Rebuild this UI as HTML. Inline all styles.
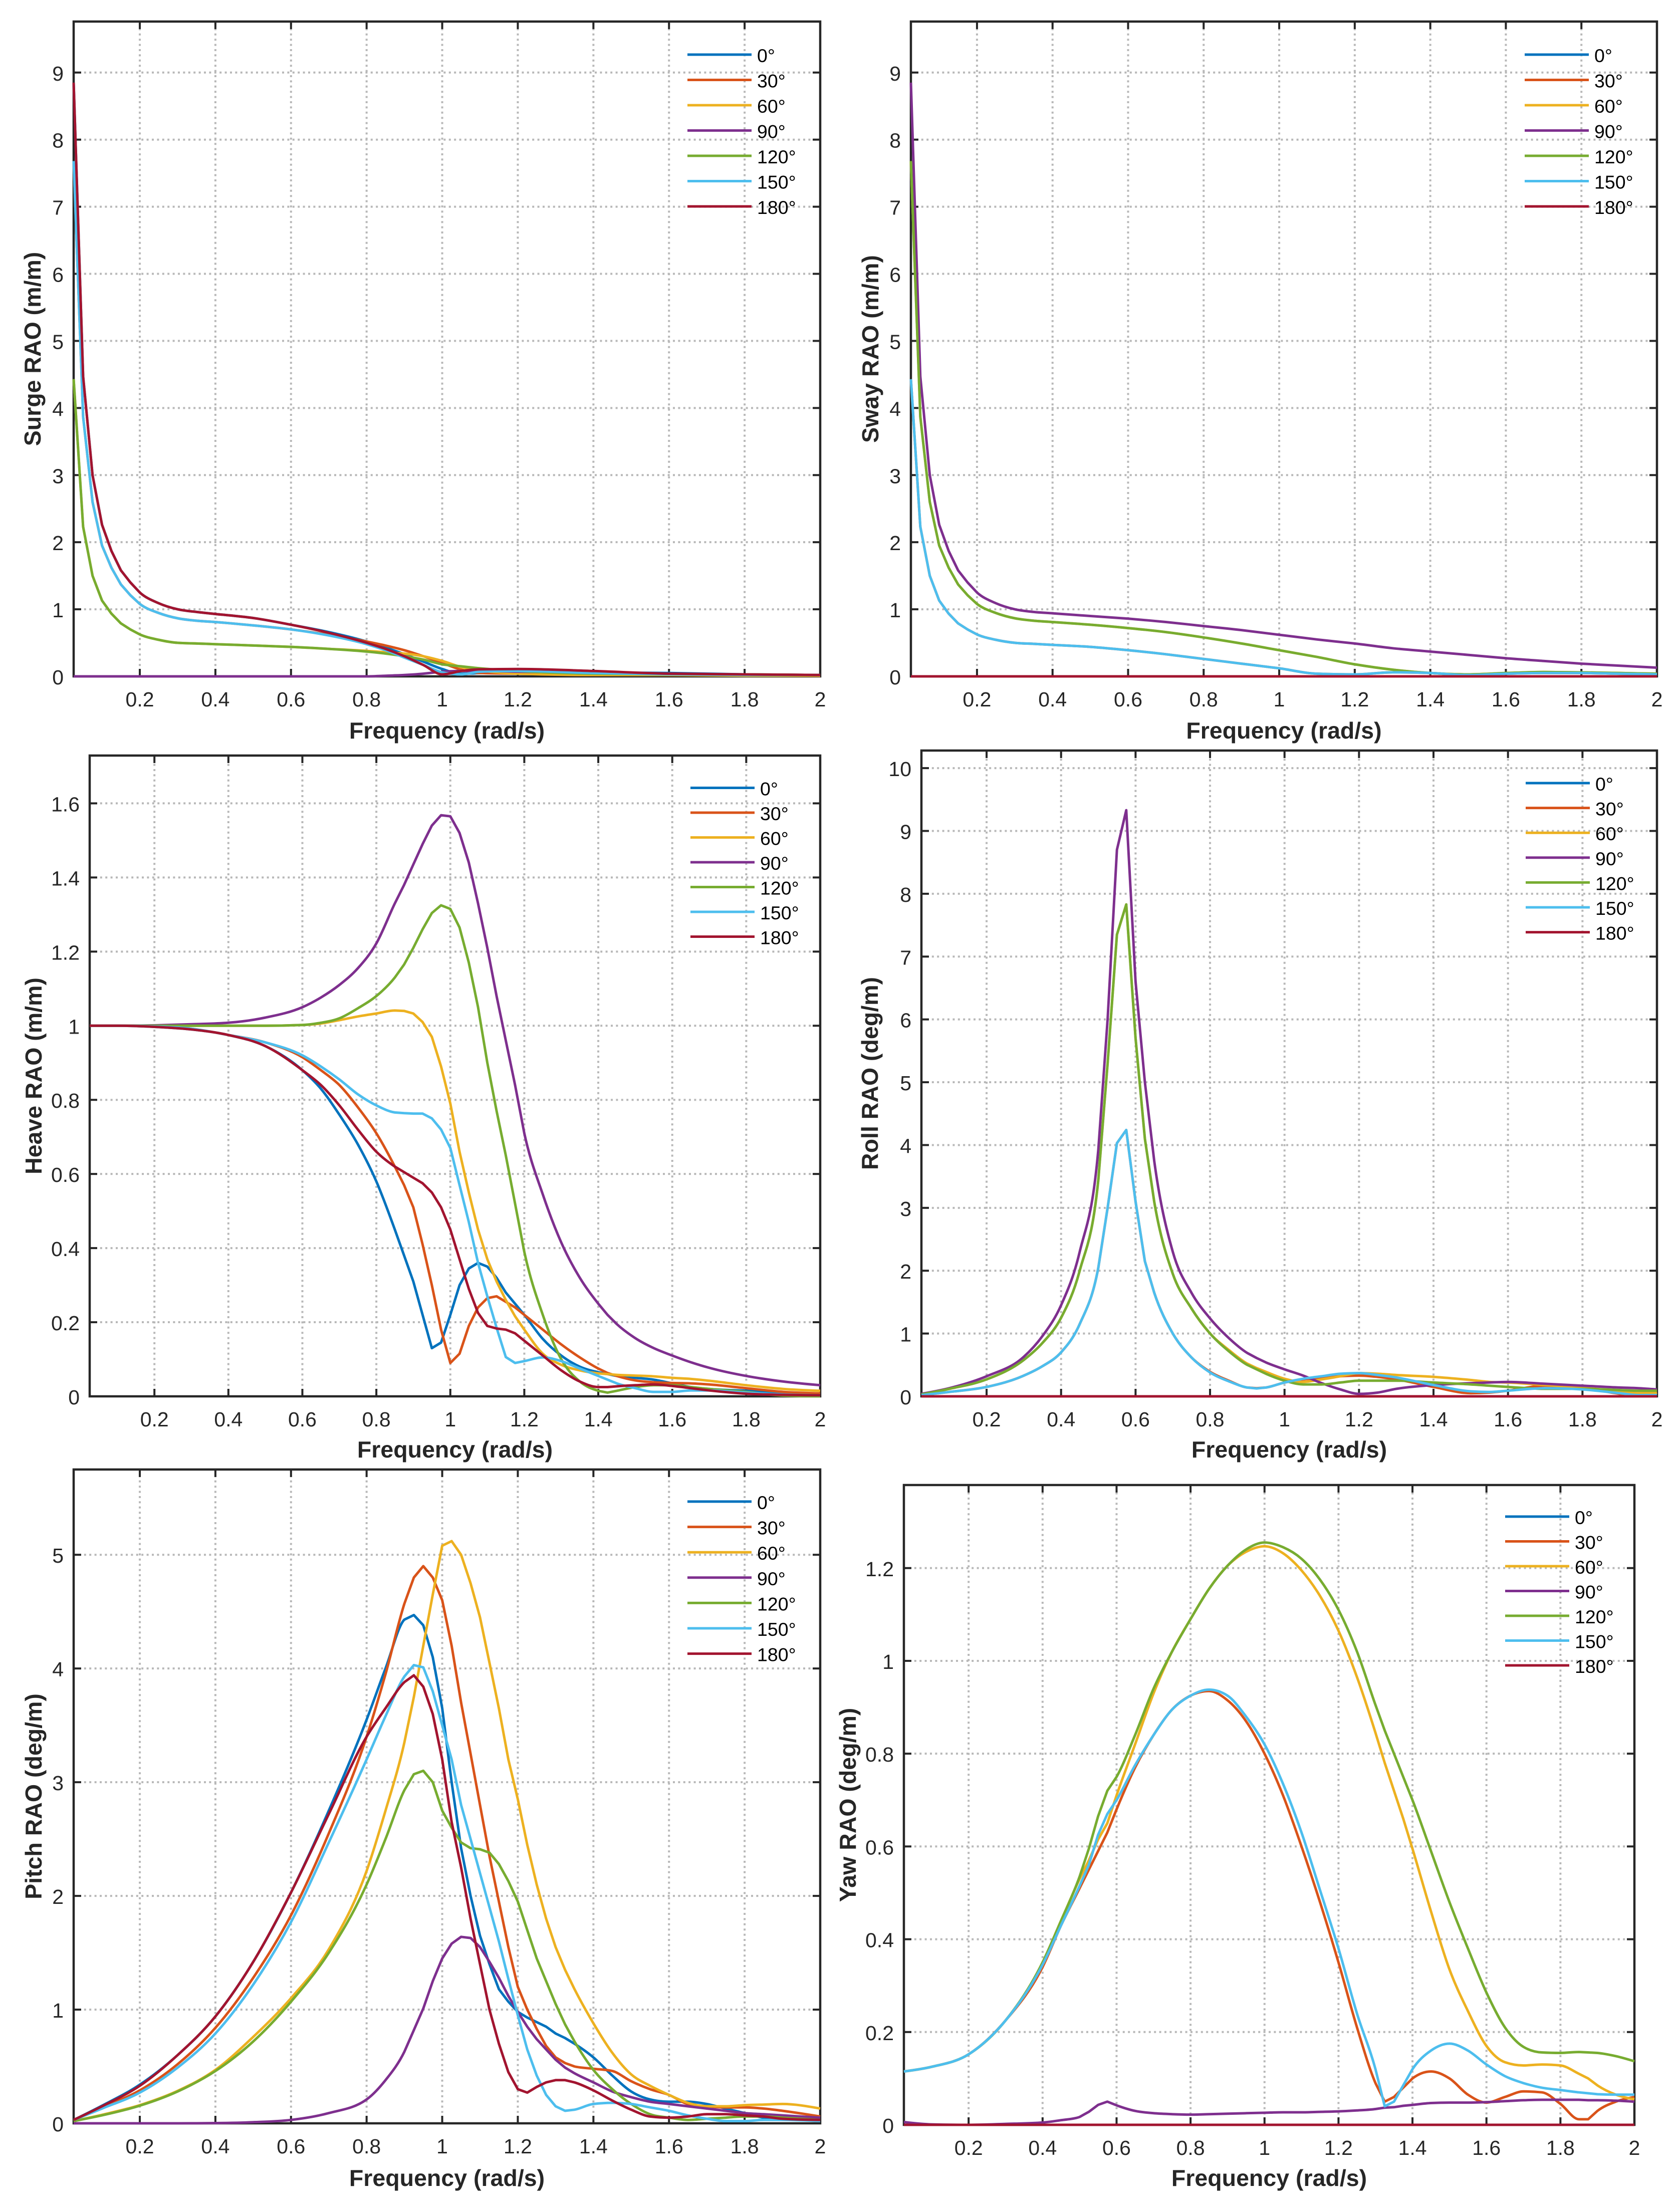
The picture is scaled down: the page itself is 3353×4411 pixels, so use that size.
<!DOCTYPE html>
<html lang="en">
<head>
<meta charset="utf-8">
<title>RAO charts</title>
<style>
html,body{margin:0;padding:0;background:#fff;}
svg{display:block;}
text{font-family:"Liberation Sans",Arial,sans-serif;}
</style>
</head>
<body>
<svg id="chart" xmlns="http://www.w3.org/2000/svg" width="3353" height="4411" viewBox="0 0 3353 4411"></svg>
<script>
const headings = ['0°','30°','60°','90°','120°','150°','180°'];
const colors = ['#0072BD','#D95319','#EDB120','#7E2F8E','#77AC30','#4DBEEE','#A2142F'];
const xTickValues = [0.2,0.4,0.6,0.8,1,1.2,1.4,1.6,1.8,2];
const xTickLabels = ['0.2','0.4','0.6','0.8','1','1.2','1.4','1.6','1.8','2'];

const surgeFreq = [.025,.05,.075,.1,.125,.15,.175,.2,.25,.3,.35,.4,.5,.6,.7,.8,.85,.9,.95,1,1.05,1.1,1.2,1.4,1.6,1.8,2];
const surge0 = [8.85,4.47,3.0,2.26,1.87,1.58,1.40,1.25,1.09,1.0,.96,.93,.87,.77,.66,.52,.43,.33,.22,.11,.04,.05,.08,.06,.05,.03,.01];
const surge30 = [7.68,3.87,2.6,1.95,1.62,1.37,1.21,1.08,.945,.866,.83,.81,.76,.7,.62,.52,.46,.39,.3,.2,.1,.05,.04,.03,.02,.02,.01];
const surge60 = [4.43,2.23,1.5,1.13,.935,.79,.70,.625,.545,.5,.49,.48,.46,.44,.41,.38,.36,.34,.3,.23,.14,.09,.04,.02,.02,.01,.01];
const surge90 = [0,0,0,0,0,0,0,0,0,0,0,0,0,0,0,0,.01,.02,.04,.07,.08,.08,.07,.05,.04,.03,.02];
const surge120 = [4.43,2.23,1.5,1.13,.935,.79,.70,.625,.545,.5,.49,.48,.46,.44,.41,.37,.34,.3,.25,.18,.15,.12,.08,.04,.03,.03,.02];
const surge150 = [7.68,3.87,2.6,1.95,1.62,1.37,1.21,1.08,.945,.866,.83,.81,.76,.7,.61,.48,.39,.28,.17,.06,.03,.07,.08,.05,.03,.02,.02];
const surge180 = [8.85,4.47,3.0,2.26,1.87,1.58,1.40,1.25,1.09,1.0,.96,.93,.87,.77,.65,.5,.41,.3,.17,.03,.08,.105,.11,.08,.04,.03,.02];
const surgeYTicks = [0,1,2,3,4,5,6,7,8,9];
const surgeYLabels = ['0','1','2','3','4','5','6','7','8','9'];

const swayFreq = [.025,.05,.075,.1,.125,.15,.175,.2,.25,.3,.35,.4,.5,.6,.7,.8,.9,1,1.1,1.2,1.3,1.4,1.5,1.6,1.7,1.8,1.9,2];
const sway0 = [0,0,0,0,0,0,0,0,0,0,0,0,0,0,0,0,0,0,0,0,0,0,0,0,0,0,0,0];
const sway30 = [4.43,2.23,1.5,1.13,.935,.79,.70,.625,.545,.5,.485,.47,.44,.39,.33,.26,.19,.12,.04,.03,.06,.05,.02,.04,.05,.05,.04,.03];
const sway60 = [7.68,3.87,2.6,1.95,1.62,1.37,1.21,1.08,.945,.866,.83,.81,.77,.72,.66,.58,.49,.39,.29,.18,.1,.05,.03,.05,.065,.06,.05,.04];
const sway90 = [8.85,4.47,3,2.26,1.87,1.58,1.40,1.25,1.09,1,.96,.94,.9,.86,.81,.75,.69,.62,.55,.49,.42,.37,.32,.27,.23,.19,.16,.13];
const sway120 = [7.68,3.87,2.6,1.95,1.62,1.37,1.21,1.08,.945,.866,.83,.81,.77,.72,.66,.58,.49,.39,.29,.18,.1,.05,.03,.05,.065,.06,.05,.04];
const sway150 = [4.43,2.23,1.5,1.13,.935,.79,.70,.625,.545,.5,.485,.47,.44,.39,.33,.26,.19,.12,.04,.03,.06,.05,.02,.04,.05,.05,.04,.03];
const sway180 = [0,0,0,0,0,0,0,0,0,0,0,0,0,0,0,0,0,0,0,0,0,0,0,0,0,0,0,0];
const swayYTicks = [0,1,2,3,4,5,6,7,8,9];
const swayYLabels = ['0','1','2','3','4','5','6','7','8','9'];

const heaveFreq = [.025,.1,.2,.3,.4,.5,.6,.65,.7,.75,.8,.85,.875,.9,.925,.95,.975,1,1.025,1.05,1.075,1.1,1.125,1.15,1.175,1.2,1.25,1.3,1.35,1.4,1.425,1.45,1.5,1.55,1.6,1.65,1.7,1.8,1.9,2];
const heave0 = [1,1,.997,.99,.975,.945,.88,.83,.76,.68,.58,.45,.38,.31,.22,.13,.145,.22,.3,.345,.36,.35,.32,.28,.25,.22,.155,.11,.08,.065,.06,.055,.05,.045,.035,.025,.02,.015,.01,.005];
const heave30 = [1,1,.998,.992,.975,.955,.915,.88,.84,.78,.71,.62,.57,.51,.41,.3,.18,.09,.115,.19,.24,.265,.27,.255,.24,.22,.18,.14,.105,.075,.063,.055,.043,.038,.036,.035,.032,.022,.012,.008];
const heave60 = [1,1,1,1,1,1,1.002,1.006,1.015,1.025,1.033,1.041,1.04,1.033,1.01,.97,.89,.79,.66,.55,.45,.37,.31,.26,.216,.18,.115,.085,.07,.062,.06,.058,.056,.054,.05,.047,.042,.03,.02,.015];
const heave90 = [1,1,1.001,1.004,1.008,1.022,1.05,1.076,1.11,1.155,1.222,1.33,1.38,1.435,1.49,1.54,1.568,1.565,1.52,1.44,1.33,1.21,1.08,.96,.84,.71,.545,.415,.32,.25,.22,.195,.157,.13,.11,.092,.077,.055,.04,.03];
const heave120 = [1,1,1,1,1,1,1.002,1.008,1.02,1.047,1.08,1.13,1.165,1.21,1.26,1.304,1.325,1.315,1.265,1.17,1.05,.9,.77,.65,.52,.39,.22,.1,.04,.015,.01,.015,.025,.03,.03,.025,.02,.012,.002,0];
const heave150 = [1,1,.998,.992,.975,.955,.92,.89,.855,.815,.785,.766,.764,.763,.763,.75,.72,.67,.57,.47,.36,.27,.185,.106,.09,.095,.105,.095,.075,.055,.045,.035,.022,.012,.012,.016,.016,.01,.005,.003];
const heave180 = [1,1,.997,.99,.975,.945,.88,.84,.785,.72,.66,.62,.605,.59,.575,.55,.51,.45,.37,.29,.225,.19,.183,.18,.17,.15,.11,.07,.04,.025,.025,.027,.03,.032,.028,.022,.016,.007,.004,.003];
const heaveYTicks = [0,.2,.4,.6,.8,1,1.2,1.4,1.6];
const heaveYLabels = ['0','0.2','0.4','0.6','0.8','1','1.2','1.4','1.6'];

const rollFreq = [.025,.1,.2,.3,.35,.4,.45,.5,.525,.55,.575,.6,.625,.65,.7,.75,.8,.85,.9,.925,.95,1,1.05,1.1,1.15,1.2,1.25,1.3,1.4,1.5,1.55,1.6,1.7,1.8,1.9,1.95,2];
const roll0 = [0,0,0,0,0,0,0,0,0,0,0,0,0,0,0,0,0,0,0,0,0,0,0,0,0,0,0,0,0,0,0,0,0,0,0,0,0];
const roll30 = [.02,.07,.15,.33,.48,.7,1.15,2.05,3.0,4.03,4.24,3.1,2.15,1.65,1.0,.62,.39,.25,.14,.13,.14,.22,.27,.29,.32,.33,.31,.27,.15,.05,.06,.09,.17,.13,.04,.0,.06];
const roll60 = [.03,.12,.27,.58,.85,1.25,2.0,3.45,5.3,7.35,7.83,5.7,4.1,3.1,1.95,1.4,1.0,.74,.52,.45,.39,.28,.23,.27,.32,.37,.36,.34,.31,.26,.23,.22,.18,.14,.08,.05,.06];
const roll90 = [.04,.13,.32,.63,.96,1.45,2.3,3.93,6.0,8.7,9.33,6.6,5.0,3.75,2.3,1.65,1.24,.93,.69,.61,.54,.43,.33,.21,.11,.04,.06,.12,.18,.21,.22,.23,.2,.17,.14,.13,.11];
const roll120 = [.03,.12,.27,.58,.85,1.25,2.0,3.45,5.3,7.35,7.83,5.7,4.1,3.1,1.95,1.4,1.0,.72,.5,.43,.36,.25,.19,.19,.22,.25,.25,.25,.22,.19,.17,.15,.12,.12,.1,.09,.09];
const roll150 = [.02,.07,.15,.33,.48,.7,1.15,2.05,3.0,4.03,4.24,3.1,2.15,1.65,1.0,.62,.38,.24,.14,.125,.14,.22,.28,.32,.36,.37,.34,.3,.18,.08,.07,.09,.13,.11,.05,.02,.02];
const roll180 = [0,0,0,0,0,0,0,0,0,0,0,0,0,0,0,0,0,0,0,0,0,0,0,0,0,0,0,0,0,0,0,0,0,0,0,0,0];
const rollYTicks = [0,1,2,3,4,5,6,7,8,9,10];
const rollYLabels = ['0','1','2','3','4','5','6','7','8','9','10'];

const pitchFreq = [.025,.1,.2,.3,.4,.5,.6,.7,.8,.85,.9,.925,.95,.975,1,1.025,1.05,1.075,1.1,1.125,1.15,1.175,1.2,1.225,1.25,1.275,1.3,1.325,1.35,1.4,1.45,1.5,1.55,1.6,1.65,1.7,1.75,1.8,1.85,1.9,2];
const pitch0 = [.03,.155,.34,.6,.94,1.42,2.03,2.75,3.55,4.0,4.43,4.47,4.38,4.1,3.65,3.0,2.42,2.0,1.65,1.4,1.18,1.07,.98,.93,.89,.85,.79,.75,.7,.58,.42,.28,.21,.19,.19,.17,.13,.09,.05,.04,.03];
const pitch30 = [.03,.14,.29,.52,.84,1.28,1.83,2.55,3.4,3.95,4.57,4.8,4.9,4.8,4.6,4.2,3.7,3.25,2.8,2.35,1.95,1.55,1.2,1.0,.83,.68,.58,.53,.5,.48,.46,.37,.3,.25,.17,.15,.14,.14,.13,.11,.06];
const pitch60 = [.02,.075,.16,.285,.47,.76,1.1,1.53,2.22,2.75,3.35,3.75,4.2,4.65,5.08,5.12,5.0,4.75,4.45,4.05,3.65,3.2,2.85,2.45,2.1,1.8,1.55,1.35,1.18,.88,.62,.43,.33,.25,.18,.15,.15,.16,.165,.17,.13];
const pitch90 = [0,0,0,0,.002,.01,.03,.09,.21,.38,.63,.82,1.01,1.25,1.45,1.58,1.64,1.63,1.55,1.42,1.28,1.12,.98,.85,.74,.65,.56,.49,.44,.36,.28,.23,.19,.17,.15,.13,.11,.09,.08,.07,.05];
const pitch120 = [.02,.07,.155,.28,.46,.72,1.07,1.5,2.1,2.5,2.93,3.07,3.1,3.0,2.75,2.6,2.47,2.42,2.41,2.38,2.28,2.13,1.95,1.7,1.45,1.25,1.05,.87,.72,.47,.3,.17,.08,.05,.03,.04,.05,.06,.06,.05,.03];
const pitch150 = [.03,.13,.27,.49,.79,1.22,1.77,2.47,3.2,3.58,3.93,4.03,4.01,3.8,3.5,3.2,2.8,2.5,2.2,1.9,1.6,1.27,.95,.65,.42,.25,.15,.11,.12,.17,.18,.17,.14,.11,.07,.04,.02,.02,.03,.03,.02];
const pitch180 = [.03,.15,.33,.6,.94,1.42,2.03,2.72,3.4,3.65,3.88,3.94,3.84,3.6,3.2,2.65,2.25,1.8,1.4,1.0,.7,.45,.3,.27,.32,.36,.38,.38,.36,.29,.2,.12,.06,.05,.06,.08,.08,.07,.06,.04,.03];
const pitchYTicks = [0,1,2,3,4,5];
const pitchYLabels = ['0','1','2','3','4','5'];

const yawFreq = [.025,.1,.2,.3,.4,.45,.5,.525,.55,.575,.6,.65,.7,.75,.8,.85,.9,.95,1,1.05,1.1,1.15,1.2,1.25,1.3,1.325,1.35,1.375,1.4,1.45,1.5,1.55,1.6,1.65,1.7,1.75,1.8,1.85,1.875,1.9,1.95,2];
const yaw0 = [0,0,0,0,0,0,0,0,0,0,0,0,0,0,0,0,0,0,0,0,0,0,0,0,0,0,0,0,0,0,0,0,0,0,0,0,0,0,0,0,0,0];
const yaw30 = [.115,.125,.152,.225,.34,.43,.51,.55,.59,.63,.68,.77,.84,.895,.925,.935,.915,.87,.8,.71,.60,.48,.35,.21,.09,.05,.06,.08,.1,.115,.1,.065,.048,.06,.072,.07,.045,.012,.012,.03,.05,.06];
const yaw60 = [.115,.125,.152,.225,.35,.44,.53,.57,.615,.65,.71,.82,.93,1.02,1.09,1.155,1.205,1.235,1.247,1.232,1.195,1.14,1.065,.965,.845,.78,.72,.66,.595,.46,.335,.245,.17,.135,.128,.13,.128,.11,.1,.085,.065,.055];
const yaw90 = [.006,.001,0,.002,.005,.01,.017,.028,.043,.05,.042,.03,.025,.023,.022,.023,.024,.025,.026,.027,.027,.028,.029,.031,.034,.037,.038,.041,.043,.047,.048,.048,.049,.051,.053,.054,.054,.054,.053,.053,.052,.05];
const yaw120 = [.115,.125,.152,.225,.35,.44,.535,.595,.665,.72,.75,.84,.94,1.02,1.09,1.155,1.205,1.24,1.255,1.245,1.22,1.175,1.11,1.02,.905,.85,.80,.75,.70,.59,.48,.38,.285,.21,.168,.156,.155,.157,.156,.155,.148,.137];
const yaw150 = [.115,.125,.152,.225,.345,.43,.515,.56,.625,.67,.7,.775,.84,.895,.925,.938,.925,.88,.82,.735,.63,.506,.38,.24,.12,.04,.05,.085,.12,.16,.175,.16,.13,.105,.09,.08,.075,.07,.068,.066,.065,.065];
const yaw180 = [0,0,0,0,0,0,0,0,0,0,0,0,0,0,0,0,0,0,0,0,0,0,0,0,0,0,0,0,0,0,0,0,0,0,0,0,0,0,0,0,0,0];
const yawYTicks = [0,.2,.4,.6,.8,1,1.2];
const yawYLabels = ['0','0.2','0.4','0.6','0.8','1','1.2'];

const svg = document.getElementById('chart');
const NS = 'http://www.w3.org/2000/svg';
const X_MIN = 0.025, X_MAX = 2;

function make(tag, parent) {
  const el = document.createElementNS(NS, tag);
  parent.appendChild(el);
  return el;
}
function lineEl(parent, x1, y1, x2, y2, stroke, width) {
  const l = make('line', parent);
  l.setAttribute('x1', x1);
  l.setAttribute('y1', y1);
  l.setAttribute('x2', x2);
  l.setAttribute('y2', y2);
  l.setAttribute('stroke', stroke);
  l.setAttribute('stroke-width', width);
  return l;
}
function textEl(parent, x, y, str, size, fill, anchor, weight) {
  const t = make('text', parent);
  t.setAttribute('x', x);
  t.setAttribute('y', y);
  t.setAttribute('font-size', size);
  t.setAttribute('fill', fill);
  t.setAttribute('text-anchor', anchor);
  if (weight) t.setAttribute('font-weight', weight);
  t.textContent = str;
  return t;
}
/* Spans at the solver's native 0.025 rad/s step stay straight like the source polyline; wider spans are smoothed monotonically. */
function seriesPath(freq, xs, ys) {
  const n = Math.min(xs.length, ys.length);
  const h = [], s = [], m = [];
  for (let i = 0; i < n - 1; i++) {
    h[i] = xs[i + 1] - xs[i];
    s[i] = h[i] ? (ys[i + 1] - ys[i]) / h[i] : 0;
  }
  for (let i = 1; i < n - 1; i++) {
    const p = (s[i - 1] * h[i] + s[i] * h[i - 1]) / (h[i - 1] + h[i]);
    const sgn = (Math.sign(s[i - 1]) + Math.sign(s[i]));
    m[i] = sgn * Math.min(Math.abs(s[i - 1]), Math.abs(s[i]), 0.5 * Math.abs(p));
  }
  m[0] = n > 2 ? (3 * s[0] - m[1]) / 2 : s[0];
  m[n - 1] = n > 2 ? (3 * s[n - 2] - m[n - 2]) / 2 : s[n - 2];
  let d = 'M' + xs[0].toFixed(1) + ' ' + ys[0].toFixed(1);
  for (let i = 0; i < n - 1; i++) {
    if (freq[i + 1] - freq[i] < 0.026) {
      d += 'L' + xs[i + 1].toFixed(1) + ' ' + ys[i + 1].toFixed(1);
      continue;
    }
    const c1x = xs[i] + h[i] / 3, c1y = ys[i] + m[i] * h[i] / 3;
    const c2x = xs[i + 1] - h[i] / 3, c2y = ys[i + 1] - m[i + 1] * h[i] / 3;
    d += 'C' + c1x.toFixed(1) + ' ' + c1y.toFixed(1) + ' ' + c2x.toFixed(1) + ' ' + c2y.toFixed(1) + ' ' + xs[i + 1].toFixed(1) + ' ' + ys[i + 1].toFixed(1);
  }
  return d;
}

function drawPanel(cfg) {
  const xScale = v => cfg.left + (v - X_MIN) / (X_MAX - X_MIN) * (cfg.right - cfg.left);
  const yScale = v => cfg.bottom - v / cfg.yMax * (cfg.bottom - cfg.top);
  const g = make('g', svg);
  
  

  const grid = make('g', g);
  
  
  xTickValues.forEach(v => {
    if (v === X_MAX) return;
    const l = lineEl(grid, xScale(v), cfg.bottom, xScale(v), cfg.top, '#b8b8b8', 4);
    l.setAttribute('stroke-dasharray', '4 6.4');
  });
  cfg.yTicks.forEach(v => {
    if (v === 0) return;
    const l = lineEl(grid, cfg.left, yScale(v), cfg.right, yScale(v), '#b8b8b8', 4);
    l.setAttribute('stroke-dasharray', '4 6.4');
  });

  const box = make('rect', g);
  box.setAttribute('x', cfg.left);
  box.setAttribute('y', cfg.top);
  box.setAttribute('width', cfg.right - cfg.left);
  box.setAttribute('height', cfg.bottom - cfg.top);
  box.setAttribute('fill', 'none');
  box.setAttribute('stroke', '#262626');
  box.setAttribute('stroke-width', 4.5);
  
  

  const xAxis = make('g', g);
  
  
  xTickValues.forEach((v, i) => {
    if (v !== X_MAX) {
      lineEl(xAxis, xScale(v), cfg.bottom, xScale(v), cfg.bottom - 15, '#262626', 4);
      lineEl(xAxis, xScale(v), cfg.top, xScale(v), cfg.top + 15, '#262626', 4);
    }
    const t = textEl(xAxis, xScale(v), cfg.bottom + 60, xTickLabels[i], 41, '#262626', 'middle');
    
    
  });

  const yAxis = make('g', g);
  
  
  cfg.yTicks.forEach((v, i) => {
    if (v !== 0) {
      lineEl(yAxis, cfg.left, yScale(v), cfg.left + 15, yScale(v), '#262626', 4);
      lineEl(yAxis, cfg.right, yScale(v), cfg.right - 15, yScale(v), '#262626', 4);
    }
    const t = textEl(yAxis, cfg.left - 20, yScale(v) + 16, cfg.yLabels[i], 41, '#262626', 'end');
    
    
  });

  const xTitle = textEl(g, (cfg.left + cfg.right) / 2, cfg.bottom + cfg.xTitleGap, 'Frequency (rad/s)', 46.5, '#262626', 'middle', 'bold');
  
  

  const yTitle = textEl(g, 0, 0, cfg.yTitle, 46.5, '#262626', 'middle', 'bold');
  yTitle.setAttribute('transform', 'translate(' + cfg.yTitleX + ' ' + (cfg.top + cfg.bottom) / 2 + ') rotate(-90)');
  
  

  const lines = make('g', g);
  
  
  cfg.series.forEach((vals, i) => {
    const p = make('path', lines);
    p.setAttribute('d', seriesPath(cfg.freq, cfg.freq.map(xScale), vals.map(yScale)));
    p.setAttribute('fill', 'none');
    p.setAttribute('stroke', colors[i]);
    p.setAttribute('stroke-width', 5);
    p.setAttribute('stroke-linejoin', 'round');
    
    
  });

  const legend = make('g', g);
  
  
  headings.forEach((label, i) => {
    const y = cfg.legendY + i * cfg.legendStep;
    const entry = make('g', legend);
    
    
    lineEl(entry, cfg.legendX, y, cfg.legendX + 128, y, colors[i], 5);
    textEl(entry, cfg.legendX + 139, y + 15, label, 37.5, '#000', 'start');
  });
}

const panels = [
  {key:'surge', freq:surgeFreq, series:[surge0,surge30,surge60,surge90,surge120,surge150,surge180], yTicks:surgeYTicks, yLabels:surgeYLabels, yMax:9.76, yTitle:'Surge RAO (m/m)', left:147, right:1637, top:43, bottom:1350, xTitleGap:124, yTitleX:81, legendX:1372, legendY:109, legendStep:50.5},
  {key:'sway', freq:swayFreq, series:[sway0,sway30,sway60,sway90,sway120,sway150,sway180], yTicks:swayYTicks, yLabels:swayYLabels, yMax:9.76, yTitle:'Sway RAO (m/m)', left:1818, right:3307, top:43, bottom:1350, xTitleGap:124, yTitleX:1753, legendX:3043, legendY:109, legendStep:50.5},
  {key:'heave', freq:heaveFreq, series:[heave0,heave30,heave60,heave90,heave120,heave150,heave180], yTicks:heaveYTicks, yLabels:heaveYLabels, yMax:1.729, yTitle:'Heave RAO (m/m)', left:179, right:1637, top:1508, bottom:2787, xTitleGap:122, yTitleX:83, legendX:1378, legendY:1572.5, legendStep:49.5},
  {key:'roll', freq:rollFreq, series:[roll0,roll30,roll60,roll90,roll120,roll150,roll180], yTicks:rollYTicks, yLabels:rollYLabels, yMax:10.28, yTitle:'Roll RAO (deg/m)', left:1839, right:3307, top:1498, bottom:2787, xTitleGap:122, yTitleX:1752, legendX:3045, legendY:1563, legendStep:49.6},
  {key:'pitch', freq:pitchFreq, series:[pitch0,pitch30,pitch60,pitch90,pitch120,pitch150,pitch180], yTicks:pitchYTicks, yLabels:pitchYLabels, yMax:5.75, yTitle:'Pitch RAO (deg/m)', left:147, right:1637, top:2933, bottom:4238, xTitleGap:125, yTitleX:83, legendX:1372, legendY:2997, legendStep:50.6},
  {key:'yaw', freq:yawFreq, series:[yaw0,yaw30,yaw60,yaw90,yaw120,yaw150,yaw180], yTicks:yawYTicks, yLabels:yawYLabels, yMax:1.379, yTitle:'Yaw RAO (deg/m)', left:1804, right:3262, top:2964, bottom:4241, xTitleGap:122, yTitleX:1708, legendX:3004, legendY:3027, legendStep:49.5}
];
panels.forEach(drawPanel);
</script>
</body>
</html>
